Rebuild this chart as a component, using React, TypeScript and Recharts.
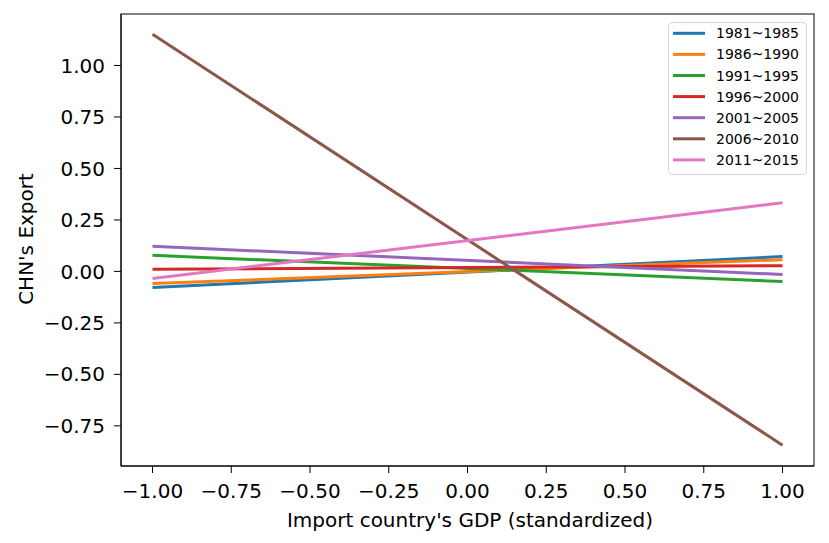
import React from "react";
import { LineChart, Line, XAxis, YAxis } from "recharts";

const seriesNames = [
  "1981~1985",
  "1986~1990",
  "1991~1995",
  "1996~2000",
  "2001~2005",
  "2006~2010",
  "2011~2015",
];
const seriesColors = ["#1f77b4", "#ff7f0e", "#2ca02c", "#d62728", "#9467bd", "#8c564b", "#e377c2"];
const xPoints = [-1, 1];
const valuesAtLeft = [-0.078, -0.059, 0.078, 0.01, 0.122, 1.152, -0.034];
const valuesAtRight = [0.072, 0.057, -0.049, 0.028, -0.015, -0.844, 0.333];
const xTicks = [-1, -0.75, -0.5, -0.25, 0, 0.25, 0.5, 0.75, 1];
const yTicks = [-0.75, -0.5, -0.25, 0, 0.25, 0.5, 0.75, 1];
const xLabel = "Import country's GDP (standardized)";
const yLabel = "CHN's Export";

const data = xPoints.map((x, i) => {
  const row: Record<string, number> = { x };
  seriesNames.forEach((n, k) => {
    row[n] = i === 0 ? valuesAtLeft[k] : valuesAtRight[k];
  });
  return row;
});

const FONT = "'DejaVu Sans', sans-serif";
const fmt = (v: number) => {
  const s = Math.abs(v).toFixed(2);
  return v < 0 ? "\u2212" + s : s;
};

const W = 829;
const H = 543;
const M = { top: 14, right: 15, bottom: 77, left: 121 };

export default function App() {
  return (
    <div style={{ position: "absolute", left: 0, top: 0, width: W, height: H, background: "#fff" }}>
      <LineChart
        width={W}
        height={H}
        data={data}
        margin={{ top: M.top, right: M.right, bottom: 0, left: 0 }}
      >
        <XAxis
          dataKey="x"
          type="number"
          domain={[-1.1, 1.1]}
          ticks={xTicks}
          tickFormatter={fmt}
          allowDataOverflow
          height={M.bottom}
          stroke="#000"
          tickSize={7}
          tickMargin={11}
          tick={{ fill: "#000", fontSize: 20, fontFamily: FONT }}
          interval={0}
        />
        <YAxis
          type="number"
          domain={[-0.945, 1.25]}
          ticks={yTicks}
          tickFormatter={fmt}
          allowDataOverflow
          width={M.left}
          stroke="#000"
          tickSize={7}
          tickMargin={9}
          tick={{ fill: "#000", fontSize: 20, fontFamily: FONT }}
          interval={0}
        />
        {seriesNames.map((n, i) => (
          <Line
            key={n}
            dataKey={n}
            stroke={seriesColors[i]}
            strokeWidth={3}
            dot={false}
            activeDot={false}
            isAnimationActive={false}
          />
        ))}
      </LineChart>
      <svg
        width={W}
        height={H}
        style={{ position: "absolute", left: 0, top: 0, pointerEvents: "none" }}
      >
        <rect
          x={M.left}
          y={M.top}
          width={W - M.left - M.right}
          height={H - M.top - M.bottom}
          fill="none"
          stroke="#000"
          strokeWidth={1}
        />
        <text x={470} y={527} textAnchor="middle" fontFamily={FONT} fontSize={20} fill="#000">
          {xLabel}
        </text>
        <text
          transform="translate(33,239) rotate(-90)"
          textAnchor="middle"
          fontFamily={FONT}
          fontSize={20}
          fill="#000"
        >
          {yLabel}
        </text>
        <g transform="translate(668,22)">
          <rect
            x={0.5}
            y={0.5}
            width={138}
            height={152}
            rx={4}
            fill="#fff"
            fillOpacity={0.8}
            stroke="#d5d5d5"
            strokeWidth={1}
          />
          {seriesNames.map((n, i) => {
            const y = 11.3 + i * 21.1;
            return (
              <g key={n}>
                <line x1={5} x2={37} y1={y} y2={y} stroke={seriesColors[i]} strokeWidth={3} />
                <text x={48} y={y + 5} fontFamily={FONT} fontSize={14} fill="#000">
                  {n}
                </text>
              </g>
            );
          })}
        </g>
      </svg>
    </div>
  );
}
